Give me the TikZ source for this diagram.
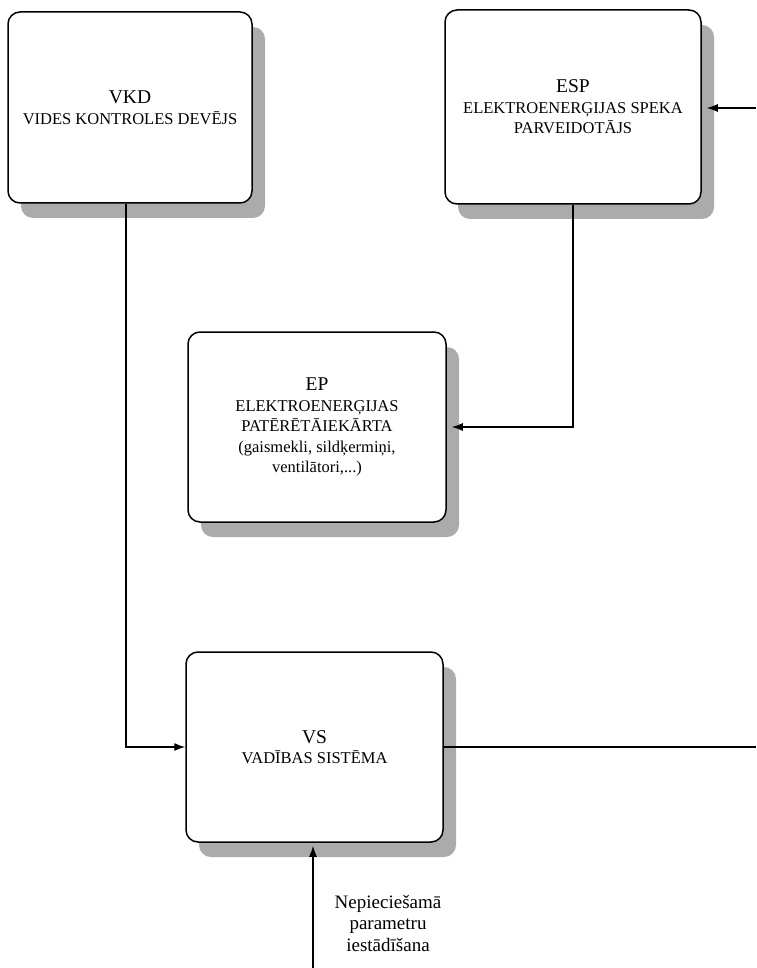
\documentclass[tikz,border=0pt]{standalone}
\usepackage{fontspec}
\setmainfont{Liberation Serif}
\usetikzlibrary{arrows.meta,shadows}
\newcommand\blktitle{\fontsize{19.5}{21}\selectfont}
\begin{document}
\begin{tikzpicture}[x=1pt,y=-1pt,
  blk/.style={draw=black, line width=1.5pt, fill=white, rounded corners=12pt,
    align=center, inner sep=0pt, font=\fontsize{16.5}{20.5}\selectfont,
    general shadow={shadow xshift=13pt, shadow yshift=-15pt, fill=black!33}},
  conline/.style={draw=black, line width=1.2pt},
  con/.style={conline, -{Latex[length=11pt,width=8pt]}},
  lbl/.style={align=center, font=\fontsize{19}{21.5}\selectfont}]
\fill[white] (0,0) rectangle (756,968);
\useasboundingbox (0,0) rectangle (756,968);

\node[blk, minimum width=244pt, minimum height=191pt] (vkd) at (130,107.5)
  {{\blktitle VKD}\\VIDES KONTROLES DEVĒJS};
\node[blk, minimum width=256pt, minimum height=194pt] (esp) at (573,107)
  {{\blktitle ESP}\\ELEKTROENERĢIJAS SPEKA\\PARVEIDOTĀJS};
\node[blk, minimum width=258pt, minimum height=190pt] (ep) at (317,427)
  {{\blktitle EP}\\ELEKTROENERĢIJAS\\PATĒRĒTĀIEKĀRTA\\(gaismekli, sildķermiņi,\\ventilātori,...)};
\node[blk, minimum width=257pt, minimum height=190pt] (vs) at (314.5,747)
  {{\blktitle VS}\\VADĪBAS SISTĒMA};

\coordinate (r1) at (756,108);
\coordinate (r2) at (756,747);
\coordinate (b0) at (313,968);

\draw[con] ([xshift=-4pt]vkd.south) |- (vs.west);
\draw[con, shorten >=5pt] (esp.south) |- (ep.east);
\draw[con, shorten >=5pt] (r1) -- (r1 -| esp.east);
\draw[conline] (vs.east) -- (r2);
\draw[con, shorten >=3pt] (b0) -- (b0 |- vs.south);

\node[lbl] (label) at (388,923) {Nepieciešamā\\parametru\\iestādīšana};
\end{tikzpicture}
\end{document}
